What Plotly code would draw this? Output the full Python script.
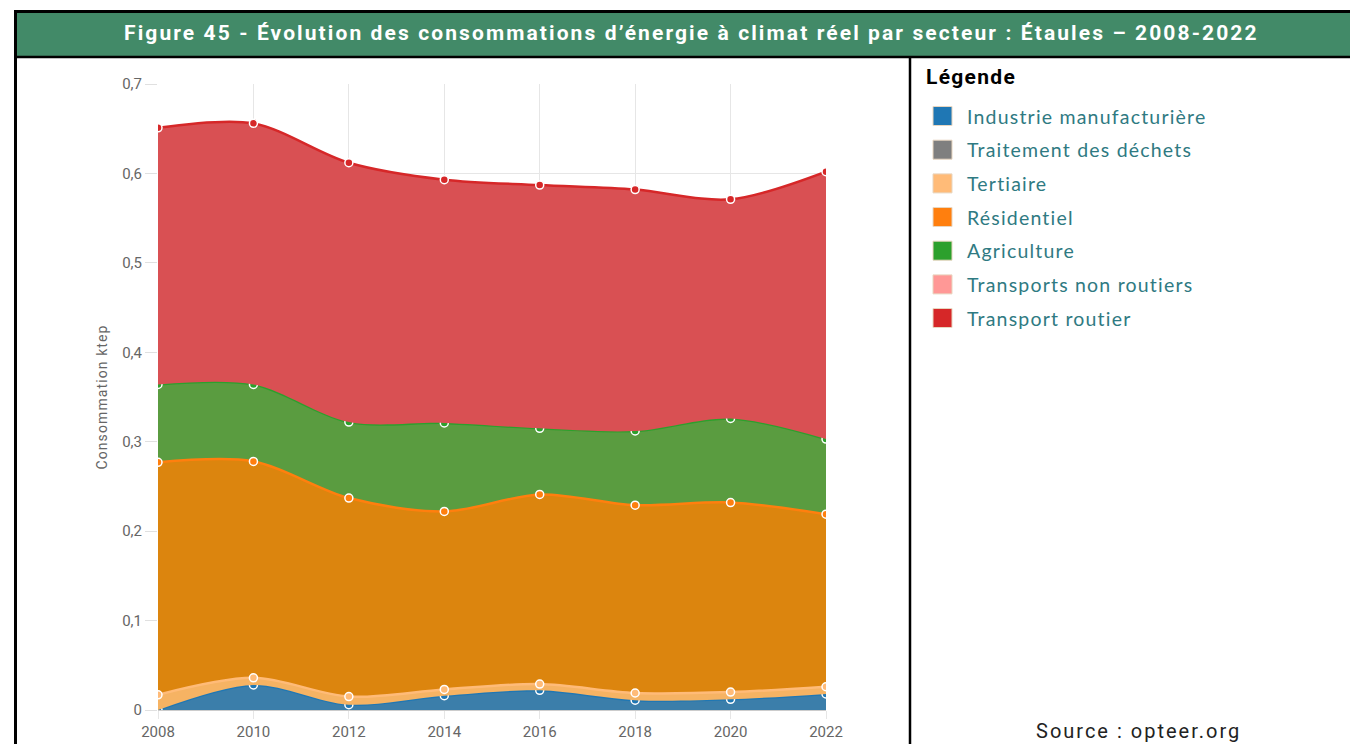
import plotly.graph_objects as go

# Years and stacked energy consumption per sector (ktep)
years = [2008, 2010, 2012, 2014, 2016, 2018, 2020, 2022]

sectors = [
    "Industrie manufacturière",
    "Traitement des déchets",
    "Tertiaire",
    "Résidentiel",
    "Agriculture",
    "Transports non routiers",
    "Transport routier",
]

industrie = [0.000, 0.028, 0.006, 0.016, 0.022, 0.011, 0.012, 0.018]
dechets = [0.0, 0.0, 0.0, 0.0, 0.0, 0.0, 0.0, 0.0]
tertiaire = [0.017, 0.008, 0.009, 0.007, 0.007, 0.008, 0.008, 0.008]
residentiel = [0.260, 0.242, 0.222, 0.199, 0.212, 0.210, 0.212, 0.193]
agriculture = [0.087, 0.086, 0.085, 0.099, 0.074, 0.083, 0.094, 0.084]
non_routiers = [0.0, 0.0, 0.0, 0.0, 0.0, 0.0, 0.0, 0.0]
routier = [0.287, 0.292, 0.290, 0.272, 0.272, 0.270, 0.245, 0.299]

series = [industrie, dechets, tertiaire, residentiel, agriculture, non_routiers, routier]

line_colors = ["#1f77b4", "#7f7f7f", "#ffbb78", "#ff7f0e", "#2ca02c", "#ff9896", "#d62728"]
fill_colors = ["#3b7eaa", "#8c8c8c", "#f6b363", "#dc850e", "#5a9c40", "#f7a5a3", "#d95053"]

y_ticks = [0, 0.1, 0.2, 0.3, 0.4, 0.5, 0.6, 0.7]
y_tick_labels = ["0", "0,1", "0,2", "0,3", "0,4", "0,5", "0,6", "0,7"]

title_text = "Figure 45 - Évolution des consommations d’énergie à climat réel par secteur : Étaules – 2008-2022"
source_text = "Source : opteer.org"

W, H = 1350, 744
L, R, T, B = 158, 826, 84, 710


def px(x):
    return (x - L) / (R - L)


def py(y):
    return (B - y) / (B - T)


def spaced(text, sp):
    return '<span style="letter-spacing:%spx">%s</span>' % (sp, text)


fig = go.Figure()

for name, vals, lc, fc in zip(sectors, series, line_colors, fill_colors):
    has_data = any(v > 0 for v in vals)
    fig.add_trace(go.Scatter(
        x=years,
        y=vals,
        name=name,
        stackgroup="conso",
        mode="lines+markers" if has_data else "none",
        line=dict(shape="spline", smoothing=0.9, color=lc, width=2.5 if has_data else 0),
        fillcolor=fc,
        marker=dict(size=8, color=lc, line=dict(color="white", width=1.5)),
        showlegend=False,
        hovertemplate="%{x}: %{y:.3f} ktep<extra>" + name + "</extra>",
    ))

shapes = []
annotations = []

# Header band and frame lines
shapes.append(dict(type="rect", xref="paper", yref="paper",
                   x0=px(17), x1=px(1352), y0=py(56), y1=py(13),
                   fillcolor="#428a68", line=dict(width=0), layer="below"))
for (x0, y0, x1, y1, w) in [
    (14, 11.5, 1352, 11.5, 3),
    (14, 57, 1352, 57, 2.5),
    (15.5, 10, 15.5, 746, 3),
    (910, 57, 910, 746, 2.5),
]:
    shapes.append(dict(type="line", xref="paper", yref="paper",
                       x0=px(x0), y0=py(y0), x1=px(x1), y1=py(y1),
                       line=dict(color="black", width=w)))

annotations.append(dict(text="<b>" + spaced(title_text, 2.1) + "</b>", xref="paper", yref="paper",
                        x=px(691), y=py(33), xanchor="center", yanchor="middle",
                        showarrow=False, font=dict(family="Roboto", size=21, color="white")))

# Legend block
annotations.append(dict(text="<b>" + spaced("Légende", 1.3) + "</b>", xref="paper", yref="paper",
                        x=px(924), y=py(77), xanchor="left", yanchor="middle",
                        showarrow=False, font=dict(family="Roboto", size=21, color="black")))
row_y = [116, 149.7, 183.4, 217, 250.7, 284.4, 318]
for name, lc, yy in zip(sectors, line_colors, row_y):
    shapes.append(dict(type="rect", xref="paper", yref="paper",
                       x0=px(933), x1=px(952), y0=py(yy + 9.5), y1=py(yy - 9.5),
                       fillcolor=lc, line=dict(color="#e8d6c0", width=1)))
    annotations.append(dict(text=spaced(name, 1.2), xref="paper", yref="paper",
                            x=px(965), y=py(yy), xanchor="left", yanchor="middle",
                            showarrow=False, font=dict(family="Lato", size=19.5, color="#2f7a82")))

annotations.append(dict(text=spaced(source_text, 2), xref="paper", yref="paper",
                        x=px(1138), y=py(731), xanchor="center", yanchor="middle",
                        showarrow=False, font=dict(family="Roboto", size=20, color="#222222")))

fig.update_layout(
    width=W, height=H,
    margin=dict(l=L, r=W - R, t=T, b=H - B, autoexpand=False),
    paper_bgcolor="white",
    plot_bgcolor="white",
    shapes=shapes,
    annotations=annotations,
    showlegend=False,
    font=dict(family="Roboto"),
)

fig.update_xaxes(
    range=[2008, 2022],
    tickvals=years,
    ticktext=[str(y) for y in years],
    showgrid=True, gridcolor="#e6e6e6", gridwidth=1,
    showline=True, linecolor="#cccccc", linewidth=1,
    ticks="outside", ticklen=8, tickcolor="#e6e6e6",
    tickfont=dict(family="Roboto", size=15, color="#666666"),
    zeroline=False,
    automargin=False,
)

fig.update_yaxes(
    range=[0, 0.7],
    tickvals=y_ticks,
    ticktext=y_tick_labels,
    showgrid=True, gridcolor="#e6e6e6", gridwidth=1,
    ticks="outside", ticklen=12, tickcolor="#e0e0e0",
    tickfont=dict(family="Roboto", size=15, color="#666666"),
    zeroline=False,
    automargin=False,
    title=dict(text=spaced("Consommation ktep", 1.1), standoff=11,
               font=dict(family="Roboto", size=14, color="#666666")),
)

fig.write_html("out.html")
